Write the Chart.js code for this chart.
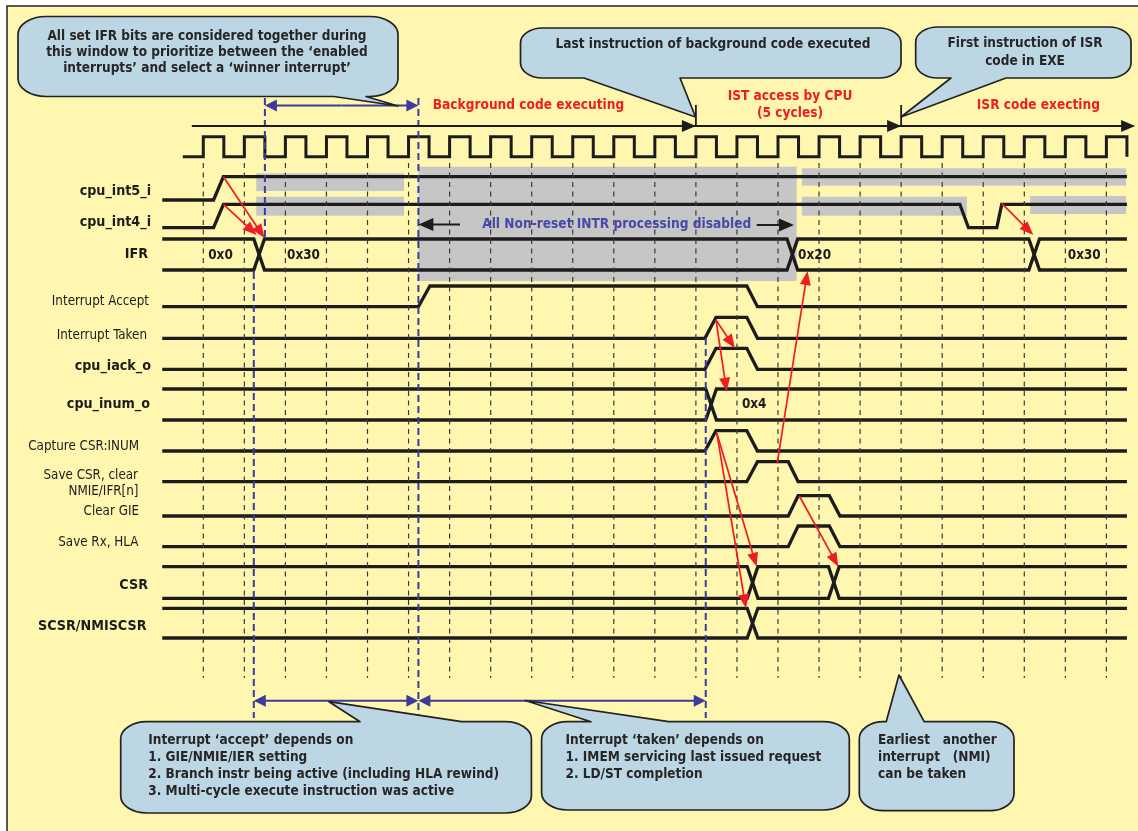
<!DOCTYPE html>
<html lang="en">
<head>
  <meta charset="UTF-8">
  <title>Interrupt accept / taken timing</title>
  <style>
    html, body { margin: 0; padding: 0; background: #fff; }
    #wrap { width: 1138px; height: 831px; }
  </style>
</head>
<body>
  <div id="wrap"><canvas id="timing" width="1138" height="831"></canvas></div>

  <script src="https://cdn.jsdelivr.net/npm/chart.js"></script>
  <script>
    // time axis is in clock cycles, 0 = first rising edge drawn
    const clockRises = [0, 1, 2, 3, 4, 5, 6, 7, 8, 9, 10, 11, 12, 13, 14, 15, 16, 17, 18, 19, 20, 21, 22];
    const clockFalls = [0.5, 1.5, 2.5, 3.5, 4.5, 5.5, 6.5, 7.5, 8.5, 9.5, 10.5, 11.5, 12.5, 13.5, 14.5, 15.5, 16.5, 17.5, 18.5, 19.5, 20.5, 21.5, 22.5];

    // single-bit signals: [time, level]
    const int5Wave    = [[-1, 0], [0.25, 0], [0.49, 1], [22.5, 1]];
    const int4Wave    = [[-1, 0], [0.25, 0], [0.49, 1], [18.43, 1], [18.64, 0], [19.33, 0], [19.45, 1], [22.5, 1]];
    const acceptWave  = [[-1, 0], [5.24, 0], [5.52, 1], [13.24, 1], [13.5, 0], [22.5, 0]];
    const takenWave   = [[-1, 0], [12.22, 0], [12.49, 1], [13.24, 1], [13.5, 0], [22.5, 0]];
    const iackWave    = [[-1, 0], [12.22, 0], [12.49, 1], [13.24, 1], [13.5, 0], [22.5, 0]];
    const captureWave = [[-1, 0], [12.22, 0], [12.49, 1], [13.24, 1], [13.5, 0], [22.5, 0]];
    const saveCsrWave = [[-1, 0], [13.24, 0], [13.5, 1], [14.25, 1], [14.49, 0], [22.5, 0]];
    const clearGieWave = [[-1, 0], [14.25, 0], [14.49, 1], [15.25, 1], [15.51, 0], [22.5, 0]];
    const saveRxWave  = [[-1, 0], [14.25, 0], [14.49, 1], [15.25, 1], [15.51, 0], [22.5, 0]];

    // buses: times where the value changes, and the values
    const ifrChanges  = [1.36, 14.35, 20.24];
    const ifrValues   = ['0x0', '0x30', '0x20', '0x30'];
    const inumChanges = [12.37];
    const inumValues  = ['', '0x4'];
    const csrChanges  = [13.38, 15.36];
    const scsrChanges = [13.38];

    // window markers (cycles)
    const prioritizeWindow = [1.5, 5.24];
    const acceptWindow = [1.23, 5.24];
    const takenWindow = [5.24, 12.24];
    const istWindow = [12, 17];

    // row levels in px (hi, lo)
    const rows = {
      clk:     { hi: 136.7, lo: 156.7 },
      int5:    { hi: 176.7, lo: 200 },
      int4:    { hi: 204.3, lo: 227.7 },
      ifr:     { hi: 239, lo: 270 },
      accept:  { hi: 286, lo: 306.7 },
      taken:   { hi: 317.3, lo: 338.3 },
      iack:    { hi: 348.3, lo: 369.3 },
      inum:    { hi: 389, lo: 420 },
      capture: { hi: 430.7, lo: 451 },
      saveCsr: { hi: 461.7, lo: 481.7 },
      clrGie:  { hi: 495.7, lo: 516 },
      saveRx:  { hi: 526, lo: 546.7 },
      csr:     { hi: 566.7, lo: 598.3 },
      scsr:    { hi: 608.3, lo: 638 }
    };
    const T_START = -1, T_END = 22.5, XH = 0.13;

    const INK = '#1c1c1c';
    const RED = '#ee1d24';
    const BLUE = '#3b3b9e';
    const FONT = '"DejaVu Sans Condensed", "DejaVu Sans", sans-serif';

    const wave = (pts, row) => pts.map(([t, l]) => ({ x: t, y: l ? row.hi : row.lo }));

    const clockPts = () => {
      const pts = [{ x: -0.5, y: rows.clk.lo }];
      clockRises.forEach((r, i) => {
        pts.push({ x: r, y: rows.clk.lo }, { x: r, y: rows.clk.hi });
        pts.push({ x: clockFalls[i], y: rows.clk.hi }, { x: clockFalls[i], y: rows.clk.lo });
      });
      return pts;
    };

    // a bus is two lines that swap at every change
    const busLines = (changes, row) => {
      const a = [{ x: T_START, y: row.hi }], b = [{ x: T_START, y: row.lo }];
      let up = true;
      changes.forEach(c => {
        a.push({ x: c - XH, y: up ? row.hi : row.lo }, { x: c + XH, y: up ? row.lo : row.hi });
        b.push({ x: c - XH, y: up ? row.lo : row.hi }, { x: c + XH, y: up ? row.hi : row.lo });
        up = !up;
      });
      a.push({ x: T_END, y: up ? row.hi : row.lo });
      b.push({ x: T_END, y: up ? row.lo : row.hi });
      return [a, b];
    };

    const vlines = (times, y0, y1) => {
      const pts = [];
      times.forEach(t => pts.push({ x: t, y: y0 }, { x: t, y: y1 }, { x: t, y: null }));
      return pts;
    };

    const sigStyle = { borderColor: INK, borderWidth: 3.3, pointRadius: 0, tension: 0, fill: false, borderCapStyle: 'butt' };

    const datasets = [];
    // dashed cycle markers
    datasets.push({ data: vlines(clockRises, 163, 678), borderColor: '#3a3a3a', borderWidth: 1.2, borderDash: [5, 4.5], pointRadius: 0, spanGaps: false });
    // blue window markers
    datasets.push({ data: vlines([prioritizeWindow[0]], 98, 239), borderColor: BLUE, borderWidth: 2, borderDash: [7, 4], pointRadius: 0, spanGaps: false });
    datasets.push({ data: vlines([acceptWindow[0]], 272, 718), borderColor: BLUE, borderWidth: 2, borderDash: [7, 4], pointRadius: 0, spanGaps: false });
    datasets.push({ data: vlines([prioritizeWindow[1]], 98, 718), borderColor: BLUE, borderWidth: 2, borderDash: [7, 4], pointRadius: 0, spanGaps: false });
    datasets.push({ data: vlines([takenWindow[1]], 338, 718), borderColor: BLUE, borderWidth: 2, borderDash: [7, 4], pointRadius: 0, spanGaps: false });

    datasets.push({ ...sigStyle, borderWidth: 3, data: clockPts() });
    datasets.push({ ...sigStyle, data: wave(int5Wave, rows.int5) });
    datasets.push({ ...sigStyle, data: wave(int4Wave, rows.int4) });
    datasets.push({ ...sigStyle, data: wave(acceptWave, rows.accept) });
    datasets.push({ ...sigStyle, data: wave(takenWave, rows.taken) });
    datasets.push({ ...sigStyle, data: wave(iackWave, rows.iack) });
    datasets.push({ ...sigStyle, data: wave(captureWave, rows.capture) });
    datasets.push({ ...sigStyle, data: wave(saveCsrWave, rows.saveCsr) });
    datasets.push({ ...sigStyle, data: wave(clearGieWave, rows.clrGie) });
    datasets.push({ ...sigStyle, data: wave(saveRxWave, rows.saveRx) });
    [[ifrChanges, rows.ifr], [inumChanges, rows.inum], [csrChanges, rows.csr], [scsrChanges, rows.scsr]].forEach(([ch, row]) => {
      busLines(ch, row).forEach(line => datasets.push({ ...sigStyle, data: line }));
    });

    // grey "don't care / masked" areas: t0, t1, yTop, yBottom
    const greyBands = [
      [1.29, 4.89, 173.3, 191], [1.29, 4.89, 196.7, 215.7],
      [5.24, 14.455, 166.7, 281],
      [14.58, 22.48, 168.3, 185.7], [14.58, 18.6, 196.7, 215.7], [20.14, 22.48, 196, 214]
    ];

    // cause -> effect arrows: t0, y0, t1, y1
    const causeArrows = [
      [0.49, 176.7, 1.49, 238], [0.49, 204.3, 1.3, 235],
      [19.45, 203.3, 20.22, 235],
      [13.98, 463.3, 14.72, 271],
      [12.49, 320, 12.95, 348.3], [12.49, 320, 12.75, 391.7],
      [12.51, 433.3, 13.48, 566.7], [12.51, 433.3, 13.22, 608.3],
      [14.52, 496, 15.47, 566.7]
    ];

    // value labels on buses: [time, y, text]
    const busLabels = [
      [0.12, 256, ifrValues[0]], [2.04, 256, ifrValues[1]], [14.49, 256, ifrValues[2]], [21.06, 256, ifrValues[3]],
      [13.12, 405, inumValues[1]]
    ];

    // signal names: text, bold, y, right edge
    const signalNames = [
      ['cpu_int5_i', true, 191, 151], ['cpu_int4_i', true, 222, 151], ['IFR', true, 254, 148],
      ['Interrupt Accept', false, 302, 149], ['Interrupt Taken', false, 336, 147],
      ['cpu_iack_o', true, 366, 151], ['cpu_inum_o', true, 404, 150],
      ['Capture CSR:INUM', false, 447, 139], ['Save CSR, clear', false, 476, 138], ['NMIE/IFR[n]', false, 492, 138.5],
      ['Clear GIE', false, 512, 139], ['Save Rx, HLA', false, 543, 138.5],
      ['CSR', true, 585, 148], ['SCSR/NMISCSR', true, 626, 146.5]
    ];

    const callouts = [
      { box: [18, 16.5, 398, 96.5], rx: 28, ry: 18, bottom: [334, 366], tip: [398, 106],
        align: 'center', cx: 207, lines: ['All set IFR bits are considered together during', 'this window to prioritize between the \u2018enabled', 'interrupts\u2019 and select a \u2018winner interrupt\u2019'], ly: [36, 52, 68] },
      { box: [520.5, 28, 901, 78], rx: 22, ry: 15, bottom: [584, 680], tip: [695.6, 117],
        align: 'center', cx: 713, lines: ['Last instruction of background code executed'], ly: [44] },
      { box: [915.7, 27, 1131, 78], rx: 22, ry: 15, bottom: [951, 1006], tip: [901, 117],
        align: 'center', cx: 1025, lines: ['First instruction of ISR', 'code in EXE'], ly: [43.5, 61] },
      { box: [120.7, 721.7, 531.4, 813], rx: 26, ry: 17, top: [360, 461.6], tip: [329, 701.7],
        align: 'left', cx: 148.3, lines: ['Interrupt \u2018accept\u2019 depends on', '1. GIE/NMIE/IER setting', '2. Branch instr being active (including HLA rewind)', '3. Multi-cycle execute instruction was active'], ly: [740, 757.3, 774, 791] },
      { box: [541.6, 721.7, 849.3, 810], rx: 26, ry: 17, top: [591, 668.7], tip: [525.3, 700.5],
        align: 'left', cx: 565.5, lines: ['Interrupt \u2018taken\u2019 depends on', '1. IMEM servicing last issued request', '2. LD/ST completion'], ly: [740, 757.3, 774] },
      { box: [859.3, 721.7, 1014, 810.7], rx: 24, ry: 17, top: [886.2, 924.2], tip: [899, 675],
        align: 'left', cx: 878, lines: ['Earliest   another', 'interrupt   (NMI)', 'can be taken'], ly: [740, 757.3, 774] }
    ];

    function head(ctx, x1, y1, x2, y2, len, wid, color) {
      const a = Math.atan2(y2 - y1, x2 - x1);
      const bx = x2 - len * Math.cos(a), by = y2 - len * Math.sin(a);
      ctx.beginPath();
      ctx.moveTo(x2, y2);
      ctx.lineTo(bx + wid / 2 * Math.sin(a), by - wid / 2 * Math.cos(a));
      ctx.lineTo(bx - wid / 2 * Math.sin(a), by + wid / 2 * Math.cos(a));
      ctx.closePath();
      ctx.fillStyle = color;
      ctx.fill();
    }

    function arrow(ctx, x1, y1, x2, y2, o) {
      const a = Math.atan2(y2 - y1, x2 - x1);
      ctx.beginPath();
      ctx.moveTo(x1, y1);
      ctx.lineTo(x2 - o.len * 0.8 * Math.cos(a), y2 - o.len * 0.8 * Math.sin(a));
      ctx.strokeStyle = o.color;
      ctx.lineWidth = o.lw;
      ctx.stroke();
      head(ctx, x1, y1, x2, y2, o.len, o.wid, o.color);
    }

    function text(ctx, s, x, y, font, color, align) {
      ctx.font = font;
      ctx.fillStyle = color;
      ctx.textAlign = align || 'left';
      ctx.textBaseline = 'middle';
      ctx.fillText(s, x, y);
    }

    function drawCallout(ctx, c) {
      const [x0, y0, x1, y1] = c.box, rx = c.rx, ry = c.ry, k = 0.55;
      ctx.beginPath();
      ctx.moveTo(x0 + rx, y0);
      if (c.top) { ctx.lineTo(c.top[0], y0); ctx.lineTo(c.tip[0], c.tip[1]); ctx.lineTo(c.top[1], y0); }
      ctx.lineTo(x1 - rx, y0);
      ctx.bezierCurveTo(x1 - rx + rx * k, y0, x1, y0 + ry - ry * k, x1, y0 + ry);
      ctx.lineTo(x1, y1 - ry);
      ctx.bezierCurveTo(x1, y1 - ry + ry * k, x1 - rx + rx * k, y1, x1 - rx, y1);
      if (c.bottom) { ctx.lineTo(c.bottom[1], y1); ctx.lineTo(c.tip[0], c.tip[1]); ctx.lineTo(c.bottom[0], y1); }
      ctx.lineTo(x0 + rx, y1);
      ctx.bezierCurveTo(x0 + rx - rx * k, y1, x0, y1 - ry + ry * k, x0, y1 - ry);
      ctx.lineTo(x0, y0 + ry);
      ctx.bezierCurveTo(x0, y0 + ry - ry * k, x0 + rx - rx * k, y0, x0 + rx, y0);
      ctx.closePath();
      ctx.fillStyle = '#bdd6e4';
      ctx.fill();
      ctx.lineWidth = 1.7;
      ctx.strokeStyle = '#222';
      ctx.lineJoin = 'round';
      ctx.stroke();
      c.lines.forEach((s, i) => text(ctx, s, c.cx, c.ly[i], 'bold 13.5px ' + FONT, '#262626', c.align));
    }

    const decor = {
      id: 'decor',
      beforeDraw(chart) {
        const ctx = chart.ctx;
        ctx.save();
        ctx.fillStyle = '#fff';
        ctx.fillRect(0, 0, chart.width, chart.height);
        ctx.fillStyle = '#fff7b0';
        ctx.fillRect(7, 6, chart.width - 7, chart.height - 6);
        ctx.strokeStyle = '#222';
        ctx.lineWidth = 1.5;
        ctx.beginPath();
        ctx.moveTo(7, chart.height);
        ctx.lineTo(7, 6);
        ctx.lineTo(chart.width, 6);
        ctx.stroke();
        ctx.restore();
      },
      beforeDatasetsDraw(chart) {
        const ctx = chart.ctx, X = v => chart.scales.x.getPixelForValue(v), Y = v => chart.scales.y.getPixelForValue(v);
        ctx.save();
        ctx.fillStyle = '#c6c6c6';
        greyBands.forEach(([t0, t1, y0, y1]) => ctx.fillRect(X(t0), Y(y0), X(t1) - X(t0), Y(y1) - Y(y0)));
        ctx.restore();
      },
      afterDatasetsDraw(chart) {
        const ctx = chart.ctx, X = v => chart.scales.x.getPixelForValue(v), Y = v => chart.scales.y.getPixelForValue(v);
        ctx.save();

        // phase timeline above the clock
        const ty = Y(126);
        ctx.strokeStyle = INK;
        ctx.lineWidth = 1.8;
        ctx.beginPath();
        ctx.moveTo(X(-0.28), ty);
        ctx.lineTo(X(22.7) - 8, ty);
        istWindow.forEach(t => { ctx.moveTo(X(t), Y(105)); ctx.lineTo(X(t), ty); });
        ctx.stroke();
        istWindow.forEach(t => head(ctx, X(t) - 20, ty, X(t), ty, 14, 12, INK));
        head(ctx, X(22.7) - 20, ty, X(22.7), ty, 14, 12, INK);

        const redFont = 'bold 13.6px ' + FONT;
        text(ctx, 'Background code executing', 528.5, 105, redFont, RED, 'center');
        text(ctx, 'IST access by CPU', 790, 96, redFont, RED, 'center');
        text(ctx, '(5 cycles)', 790, 113, redFont, RED, 'center');
        text(ctx, 'ISR code execting', 1038.4, 105, redFont, RED, 'center');

        // blue window arrows
        const blue = { color: BLUE, lw: 2, len: 12, wid: 12 };
        const dbl = (t0, t1, y) => {
          arrow(ctx, X((t0 + t1) / 2), Y(y), X(t0), Y(y), blue);
          arrow(ctx, X((t0 + t1) / 2), Y(y), X(t1), Y(y), blue);
        };
        dbl(prioritizeWindow[0], prioritizeWindow[1], 105.5);
        dbl(acceptWindow[0], acceptWindow[1], 700.7);
        dbl(takenWindow[0], takenWindow[1], 700.7);

        // interrupt processing disabled
        const blk = { color: INK, lw: 2, len: 15, wid: 13 };
        arrow(ctx, 460, Y(224.5), X(5.24), Y(224.5), blk);
        arrow(ctx, 756.7, Y(225), 794, Y(225), blk);
        text(ctx, 'All Non-reset INTR processing disabled', 616.7, 224.5, 'bold 13.6px ' + FONT, '#4848a8', 'center');

        // red cause arrows
        const red = { color: RED, lw: 1.7, len: 14, wid: 11 };
        causeArrows.forEach(([t0, y0, t1, y1]) => arrow(ctx, X(t0), Y(y0), X(t1), Y(y1), red));

        busLabels.forEach(([t, y, s]) => text(ctx, s, X(t), Y(y), 'bold 13.4px ' + FONT, INK, 'left'));
        signalNames.forEach(([s, b, y, rx]) => text(ctx, s, rx, y, (b ? 'bold 14.2px ' : '13.3px ') + FONT, INK, 'right'));

        callouts.forEach(c => drawCallout(ctx, c));
        ctx.restore();
      }
    };

    new Chart(document.getElementById('timing'), {
      type: 'line',
      data: { datasets },
      options: {
        responsive: false,
        animation: false,
        events: [],
        layout: { padding: 0 },
        elements: { line: { tension: 0 } },
        plugins: { legend: { display: false }, tooltip: { enabled: false } },
        scales: {
          x: { type: 'linear', display: false, min: -203.3 / 41.05, max: (1138 - 203.3) / 41.05, bounds: 'data' },
          y: { type: 'linear', display: false, min: 0, max: 831, reverse: true, bounds: 'data' }
        }
      },
      plugins: [decor]
    });
  </script>
</body>
</html>
